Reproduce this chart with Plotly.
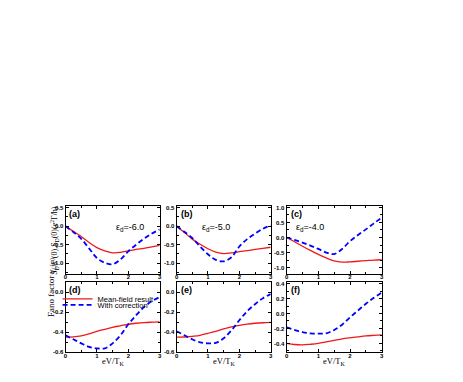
import plotly.graph_objects as go

# bias voltage eV/T_K
bias = [0, 0.25, 0.5, 0.75, 1.0, 1.25, 1.5, 1.75, 2.0, 2.25, 2.5, 2.75, 3.0]

# top row: shot noise S_D(0), mean-field vs corrected
noise_a_mf = [0, -0.14, -0.28, -0.44, -0.58, -0.67, -0.72, -0.71, -0.67, -0.63, -0.60, -0.56, -0.52]
noise_a_corr = [0, -0.16, -0.34, -0.60, -0.86, -0.99, -1.03, -0.90, -0.68, -0.50, -0.34, -0.20, -0.09]
noise_b_mf = [0, -0.17, -0.35, -0.49, -0.61, -0.70, -0.74, -0.72, -0.69, -0.66, -0.63, -0.60, -0.57]
noise_b_corr = [0, -0.15, -0.32, -0.55, -0.76, -0.91, -0.95, -0.84, -0.55, -0.35, -0.20, -0.07, 0.02]
noise_c_mf = [0, -0.14, -0.29, -0.43, -0.56, -0.68, -0.78, -0.82, -0.81, -0.79, -0.77, -0.75, -0.74]
noise_c_corr = [0, -0.08, -0.17, -0.27, -0.38, -0.50, -0.55, -0.38, -0.12, 0.08, 0.27, 0.47, 0.66]

# bottom row: Fano factor
fano_d_mf = [-0.448, -0.445, -0.435, -0.415, -0.39, -0.37, -0.35, -0.335, -0.32, -0.31, -0.303, -0.299, -0.296]
fano_d_corr = [-0.43, -0.47, -0.51, -0.545, -0.56, -0.56, -0.51, -0.43, -0.32, -0.23, -0.15, -0.09, -0.05]
fano_e_mf = [-0.448, -0.447, -0.44, -0.43, -0.41, -0.39, -0.365, -0.345, -0.33, -0.318, -0.31, -0.305, -0.302]
fano_e_corr = [-0.39, -0.43, -0.47, -0.50, -0.51, -0.505, -0.46, -0.38, -0.28, -0.19, -0.12, -0.06, -0.02]
fano_f_mf = [-0.40, -0.415, -0.42, -0.412, -0.40, -0.38, -0.36, -0.34, -0.325, -0.312, -0.30, -0.292, -0.285]
fano_f_corr = [-0.185, -0.22, -0.25, -0.265, -0.27, -0.265, -0.22, -0.15, -0.05, 0.04, 0.13, 0.21, 0.28]

eps_labels = ["-6.0", "-5.0", "-4.0"]
panel_tags = ["(a)", "(b)", "(c)", "(d)", "(e)", "(f)"]
x_ticks = [0, 1, 2, 3]
noise_ticks = [-1.0, -0.5, 0.0, 0.5, 1.0]
fano_ticks = [-0.6, -0.4, -0.2, 0.0, 0.2, 0.4]

W, H = 463, 382
OFF = 8  # page body margin
RED = "#f01818"
BLUE = "#0000ff"
SANS = "Arial, Liberation Sans, sans-serif"
SERIF = "Times New Roman, Liberation Serif, serif"


def fx(p):
    return (p - OFF) / W


def fy(p):
    return 1 - (p - OFF) / H


# pixel boxes of the six panels (left, right, top, bottom) on the page
cols = [(64, 159), (176, 271), (287, 383)]
rows = [(207, 276), (284, 355)]

panels = [
    (noise_a_mf, noise_a_corr, [-1.3, 0.55], 0.25),
    (noise_b_mf, noise_b_corr, [-1.3, 0.55], 0.25),
    (noise_c_mf, noise_c_corr, [-1.22, 1.05], 0.25),
    (fano_d_mf, fano_d_corr, [-0.6, 0.1], 0.1),
    (fano_e_mf, fano_e_corr, [-0.6, 0.1], 0.1),
    (fano_f_mf, fano_f_corr, [-0.52, 0.42], 0.1),
]

fig = go.Figure()

for i, (mf, corr, yr, minor) in enumerate(panels):
    n = "" if i == 0 else str(i + 1)
    left, right = cols[i % 3]
    top, bottom = rows[i // 3]
    first = i == 3

    fig.add_trace(go.Scatter(
        x=bias, y=mf, mode="lines", line_shape="spline",
        name="Mean-field result", showlegend=first, legend="legend",
        line=dict(color=RED, width=1.3),
        xaxis="x" + n, yaxis="y" + n,
    ))
    fig.add_trace(go.Scatter(
        x=bias, y=corr, mode="lines", line_shape="spline",
        name="With correction", showlegend=first, legend="legend2",
        line=dict(color=BLUE, width=1.8, dash="5px,3px"),
        xaxis="x" + n, yaxis="y" + n,
    ))

    yt = noise_ticks if i < 3 else fano_ticks
    yt = [v for v in yt if yr[0] <= v <= yr[1]]
    common = dict(
        showline=True, linecolor="black", linewidth=1, mirror="allticks",
        ticks="inside", ticklen=3, tickcolor="black", showgrid=False,
        zeroline=False,
        tickfont=dict(family=SANS, size=6, color="black", weight="bold"),
    )
    fig.update_layout({
        "xaxis" + n: dict(
            domain=[fx(left), fx(right)], anchor="y" + n, range=[0, 3],
            tickvals=x_ticks, ticktext=[str(v) for v in x_ticks],
            ticklabelstandoff=-3,
            minor=dict(ticks="inside", dtick=0.5, ticklen=2, tickcolor="black"),
            **common),
        "yaxis" + n: dict(
            domain=[fy(bottom), fy(top)], anchor="x" + n, range=yr,
            tickvals=yt, ticktext=[f"{v:.1f}".replace("-0.0", "0.0") for v in yt],
            minor=dict(ticks="inside", dtick=minor, ticklen=2, tickcolor="black"),
            **common),
    })

    fig.add_annotation(
        x=fx(left + 2), y=fy(top + 8), xref="paper", yref="paper",
        text="<b>" + panel_tags[i] + "</b>", showarrow=False,
        xanchor="left", yanchor="middle",
        font=dict(family=SANS, size=9, color="black"),
    )

annot_font = dict(family=SANS, size=9, color="black")
for j, eps in enumerate(eps_labels):
    cx = [113, 216, 327][j]
    fig.add_annotation(
        x=fx(cx), y=fy(229), xref="paper", yref="paper",
        text="ε<sub>d</sub>=" + eps, showarrow=False, font=annot_font,
    )

for cx in [112, 224, 335]:
    fig.add_annotation(
        x=fx(cx), y=fy(358), xref="paper", yref="paper",
        text="eV/T<sub>K</sub>", showarrow=False, borderpad=0,
        xanchor="center", yanchor="top",
        font=dict(family=SERIF, size=8.5, color="black"),
    )

fig.add_annotation(
    x=fx(45), y=fy(242), xref="paper", yref="paper", textangle=-90,
    text="S<sub>D</sub><sup>(m)</sup>(0),S<sub>D</sub>(0)(e<sup>2</sup>Γ/h)",
    showarrow=False, font=dict(family=SERIF, size=8, color="black"),
)
fig.add_annotation(
    x=fx(43), y=fy(321), xref="paper", yref="paper", textangle=-90,
    text="Fano factor γ<sub>(3)</sub>",
    showarrow=False, font=dict(family=SERIF, size=9, color="black"),
)

legend_style = dict(
    xanchor="left", yanchor="middle", bgcolor="rgba(0,0,0,0)",
    font=dict(family=SANS, size=7.5, color="black"),
    borderwidth=0, itemwidth=30, tracegroupgap=0,
)

fig.update_layout(
    width=W, height=H, autosize=False,
    margin=dict(l=0, r=0, t=0, b=0),
    paper_bgcolor="white", plot_bgcolor="white",
    legend=dict(x=fx(56), y=fy(301), **legend_style),
    legend2=dict(x=fx(56), y=fy(307), **legend_style),
)

fig.write_html("out.html")
